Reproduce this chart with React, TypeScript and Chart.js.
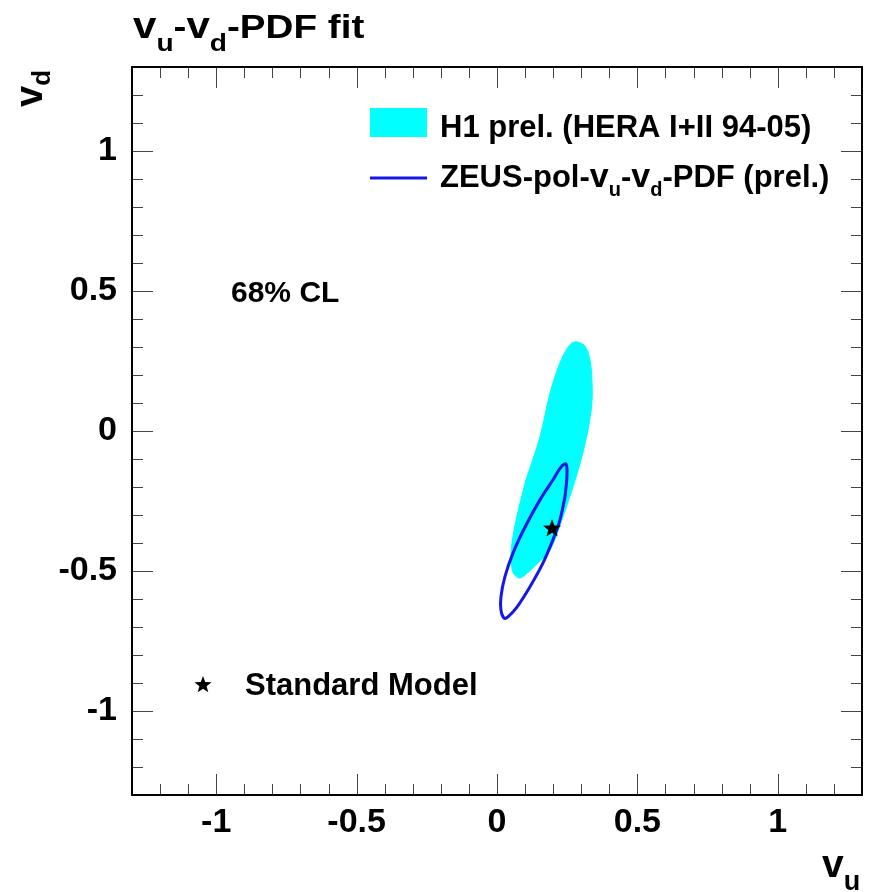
import React, { useEffect, useRef } from "react";
import { Chart, registerables } from "chart.js";

Chart.register(...registerables);

// ---- axis ----
const AXIS_MIN = -1.3;
const AXIS_MAX = 1.3;
const majorTickValues = [-1, -0.5, 0, 0.5, 1];

// ---- H1 prel. (HERA I+II 94-05) 68% CL contour (v_u, v_d) ----
const h1U = [0.103, 0.153, 0.189, 0.224, 0.249, 0.267, 0.285, 0.313, 0.331, 0.338, 0.338, 0.324, 0.299, 0.267, 0.231, 0.189, 0.142, 0.100, 0.078, 0.057, 0.050, 0.068, 0.103];
const h1D = [-0.175, -0.021, 0.136, 0.243, 0.293, 0.314, 0.318, 0.304, 0.254, 0.182, 0.100, 0.004, -0.104, -0.211, -0.318, -0.425, -0.475, -0.514, -0.525, -0.504, -0.436, -0.318, -0.175];

// ---- ZEUS-pol-v_u-v_d-PDF (prel.) contour ----
const zeusU = [0.242, 0.224, 0.199, 0.164, 0.117, 0.071, 0.039, 0.025, 0.014, 0.014, 0.028, 0.057, 0.100, 0.153, 0.199, 0.228, 0.246, 0.249, 0.242];
const zeusD = [-0.236, -0.318, -0.389, -0.471, -0.557, -0.629, -0.664, -0.668, -0.639, -0.593, -0.521, -0.436, -0.343, -0.246, -0.175, -0.129, -0.118, -0.164, -0.236];

// ---- Standard Model point ----
const smU = [0.196];
const smD = [-0.346];

const FONT = '"Liberation Sans", Arial, Helvetica, sans-serif';
const CYAN = "#00FFFF";
const BLUE = "rgb(22,22,235)";

function drawStar(ctx: CanvasRenderingContext2D, cx: number, cy: number, R: number, color: string) {
  const r = R * 0.42;
  ctx.beginPath();
  for (let i = 0; i < 10; i++) {
    const a = -Math.PI / 2 + (i * Math.PI) / 5;
    const rr = i % 2 === 0 ? R : r;
    const px = cx + rr * Math.cos(a);
    const py = cy + rr * Math.sin(a);
    if (i === 0) ctx.moveTo(px, py);
    else ctx.lineTo(px, py);
  }
  ctx.closePath();
  ctx.fillStyle = color;
  ctx.fill();
}

function makeStarCanvas(size: number, color: string) {
  const c = document.createElement("canvas");
  c.width = size;
  c.height = size;
  const ctx = c.getContext("2d")!;
  drawStar(ctx, size / 2, size / 2 + 0.8, size / 2 - 0.5, color);
  return c;
}

type Part = { t: string; size: number; dy?: number };

function drawRich(ctx: CanvasRenderingContext2D, x: number, y: number, parts: Part[], sx = 1) {
  ctx.save();
  ctx.translate(x, y);
  ctx.scale(sx, 1);
  let cx = 0;
  ctx.textAlign = "left";
  ctx.textBaseline = "alphabetic";
  ctx.fillStyle = "#000";
  for (const p of parts) {
    ctx.font = `bold ${p.size}px ${FONT}`;
    ctx.fillText(p.t, cx, p.dy || 0);
    cx += ctx.measureText(p.t).width;
  }
  ctx.restore();
}

const framePlugin = {
  id: "rootFrame",
  beforeDraw(chart: any) {
    const ctx = chart.ctx as CanvasRenderingContext2D;
    ctx.save();
    ctx.fillStyle = "#fff";
    ctx.fillRect(0, 0, chart.width, chart.height);
    ctx.restore();
  },
  afterDraw(chart: any) {
    const ctx = chart.ctx as CanvasRenderingContext2D;
    const { left, right, top, bottom } = chart.chartArea;
    const xs = chart.scales.x;
    const ys = chart.scales.y;
    ctx.save();

    // ticks (inward, on all four sides)
    ctx.strokeStyle = "#444";
    ctx.lineWidth = 1;
    const isMajor = (v: number) => majorTickValues.some((m) => Math.abs(m - v) < 1e-6);
    xs.ticks.forEach((t: any) => {
      const px = Math.round(xs.getPixelForValue(t.value)) + 0.5;
      const len = isMajor(t.value) ? 21 : 11;
      ctx.beginPath();
      ctx.moveTo(px, bottom);
      ctx.lineTo(px, bottom - len);
      ctx.moveTo(px, top);
      ctx.lineTo(px, top + len);
      ctx.stroke();
    });
    ys.ticks.forEach((t: any) => {
      const py = Math.round(ys.getPixelForValue(t.value)) + 0.5;
      const len = isMajor(t.value) ? 21 : 11;
      ctx.beginPath();
      ctx.moveTo(left, py);
      ctx.lineTo(left + len, py);
      ctx.moveTo(right, py);
      ctx.lineTo(right - len, py);
      ctx.stroke();
    });

    // frame
    ctx.strokeStyle = "#000";
    ctx.lineWidth = 2;
    ctx.strokeRect(left, top, right - left, bottom - top);

    // title
    drawRich(
      ctx,
      133,
      38,
      [
        { t: "v", size: 36 },
        { t: "u", size: 24, dy: 13 },
        { t: "-", size: 33 },
        { t: "v", size: 36 },
        { t: "d", size: 24, dy: 13 },
        { t: "-PDF fit", size: 33 },
      ],
      1.17
    );

    // x axis title
    drawRich(ctx, 822, 877, [
      { t: "v", size: 39 },
      { t: "u", size: 27, dy: 13 },
    ]);

    // y axis title (rotated)
    ctx.save();
    ctx.translate(42, 107);
    ctx.rotate(-Math.PI / 2);
    drawRich(ctx, 0, 0, [
      { t: "v", size: 38 },
      { t: "d", size: 26, dy: 8 },
    ]);
    ctx.restore();

    // legend
    ctx.fillStyle = CYAN;
    ctx.fillRect(370, 108, 57, 29);
    drawRich(ctx, 440, 137, [{ t: "H1 prel. (HERA I+II 94-05)", size: 31 }]);
    ctx.strokeStyle = BLUE;
    ctx.lineWidth = 3;
    ctx.beginPath();
    ctx.moveTo(370, 178);
    ctx.lineTo(427, 178);
    ctx.stroke();
    drawRich(ctx, 440, 187, [
      { t: "ZEUS-pol-", size: 31 },
      { t: "v", size: 34 },
      { t: "u", size: 20, dy: 9 },
      { t: "-", size: 31 },
      { t: "v", size: 34 },
      { t: "d", size: 20, dy: 9 },
      { t: "-PDF (prel.)", size: 31 },
    ]);

    // 68% CL
    drawRich(ctx, 231, 302, [{ t: "68% CL", size: 30 }]);

    // Standard Model label
    drawStar(ctx, 203, 685, 9, "#000");
    drawRich(ctx, 245, 695, [{ t: "Standard Model", size: 31 }]);

    ctx.restore();
  },
};

const tickCallback = (v: any) => {
  const r = Math.round(Number(v) * 10);
  if (r % 5 !== 0) return "";
  const val = r / 10;
  return majorTickValues.includes(val) ? String(val) : "";
};

export default function App() {
  const ref = useRef<HTMLCanvasElement | null>(null);

  useEffect(() => {
    if (!ref.current) return;
    const star = makeStarCanvas(20, "#000");
    const chart = new Chart(ref.current, {
      type: "scatter",
      data: {
        datasets: [
          {
            label: "Standard Model",
            data: smU.map((u, i) => ({ x: u, y: smD[i] })),
            pointStyle: star as any,
            pointRadius: 10,
            showLine: false,
            order: 0,
          },
          {
            label: "ZEUS-pol-vu-vd-PDF (prel.)",
            data: zeusU.map((u, i) => ({ x: u, y: zeusD[i] })),
            showLine: true,
            borderColor: BLUE,
            borderWidth: 3,
            pointRadius: 0,
            tension: 0.35,
            fill: false,
            order: 1,
          },
          {
            label: "H1 prel. (HERA I+II 94-05)",
            data: h1U.map((u, i) => ({ x: u, y: h1D[i] })),
            showLine: true,
            borderColor: CYAN,
            backgroundColor: CYAN,
            borderWidth: 1,
            pointRadius: 0,
            tension: 0.35,
            fill: "shape",
            order: 2,
          },
        ],
      },
      options: {
        animation: false,
        responsive: false,
        maintainAspectRatio: false,
        layout: { padding: { left: 0, top: 67, right: 13, bottom: 0 } },
        plugins: {
          legend: { display: false },
          tooltip: { enabled: false },
          title: { display: false },
        },
        scales: {
          x: {
            type: "linear",
            min: AXIS_MIN,
            max: AXIS_MAX,
            grid: { display: false, drawTicks: false },
            border: { display: false },
            ticks: {
              stepSize: 0.1,
              autoSkip: false,
              maxRotation: 0,
              padding: 7,
              color: "#000",
              font: { family: FONT, size: 34, weight: "bold" },
              callback: tickCallback,
            },
            afterFit: (s: any) => {
              s.height = 97;
            },
          },
          y: {
            type: "linear",
            min: AXIS_MIN,
            max: AXIS_MAX,
            grid: { display: false, drawTicks: false },
            border: { display: false },
            ticks: {
              stepSize: 0.1,
              autoSkip: false,
              padding: 15,
              color: "#000",
              font: { family: FONT, size: 34, weight: "bold" },
              callback: tickCallback,
            },
            afterFit: (s: any) => {
              s.width = 132;
            },
          },
        },
      },
      plugins: [framePlugin],
    });
    return () => chart.destroy();
  }, []);

  return (
    <div style={{ position: "absolute", left: 0, top: 0, width: 875, height: 892 }}>
      <canvas ref={ref} width={875} height={892} style={{ display: "block" }} />
    </div>
  );
}
